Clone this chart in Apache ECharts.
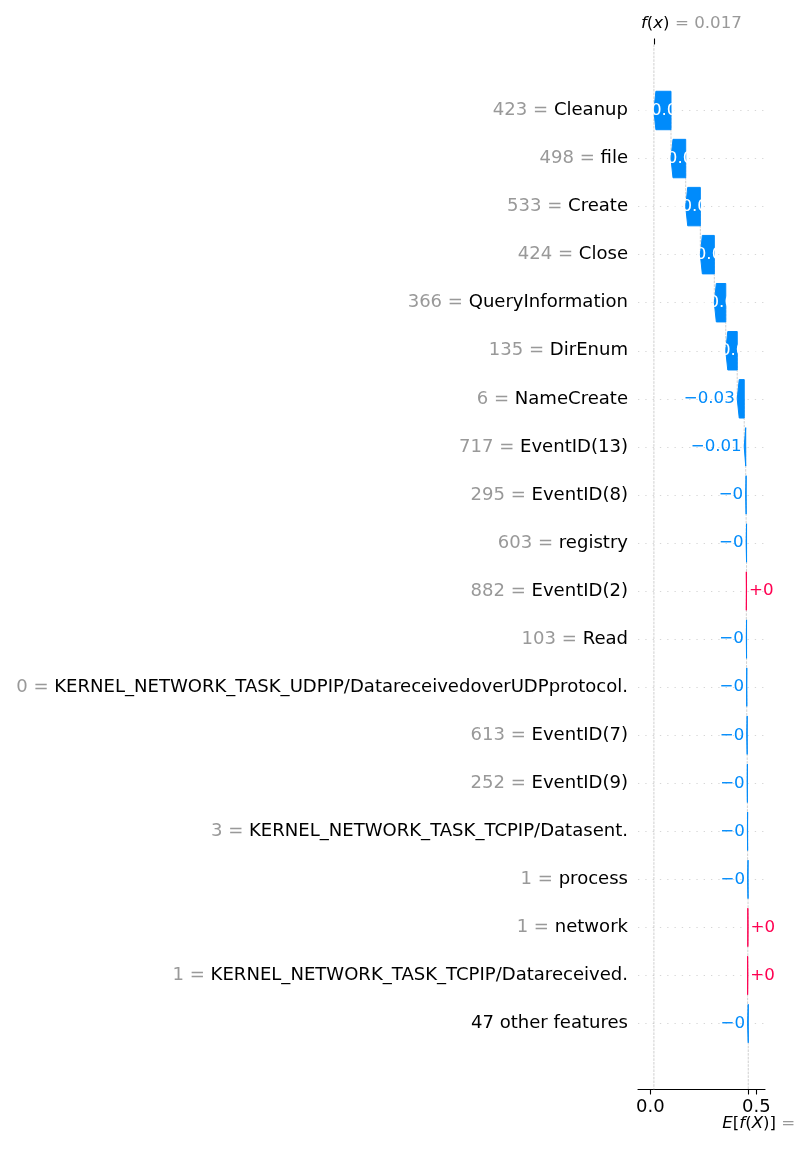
<!DOCTYPE html>
<html><head><meta charset="utf-8">
<script src="https://cdn.jsdelivr.net/npm/echarts@6/dist/echarts.min.js"></script>
<style>html,body{margin:0;padding:0;background:#fff}#c{width:800px;height:1150px}</style>
</head><body><div id="c"></div>
<script>
// ---- data ----
const featureNames = ['Cleanup','file','Create','Close','QueryInformation','DirEnum','NameCreate','EventID(13)','EventID(8)','registry','EventID(2)','Read','KERNEL_NETWORK_TASK_UDPIP/DatareceivedoverUDPprotocol.','EventID(7)','EventID(9)','KERNEL_NETWORK_TASK_TCPIP/Datasent.','process','network','KERNEL_NETWORK_TASK_TCPIP/Datareceived.','47 other features'];
const featureValues = ['423','498','533','424','366','135','6','717','295','603','882','103','0','613','252','3','1','1','1',''];
const shapValues = [-0.0806,-0.0694,-0.069,-0.066,-0.054,-0.054,-0.033,-0.007,-0.002,-0.002,0.001,-0.001,-0.001,-0.002,-0.001,-0.001,-0.002,0.001,0.001,-0.003];
const baseValue = 0.462;
const fxValue = 0.017;
const xTickValues = [0, 0.5];

// ---- style ----
const FONT = 'DejaVu Sans';
const BLUE = '#008bfb', RED = '#ff0051', GRAY = '#999999';
const TOP_OFFSET = 66, BOTTOM_OFFSET = 66;

const n = featureNames.length;
const segStart = [], segEnd = [];
let cum = baseValue;
for (let i = n - 1; i >= 0; i--) { segStart[i] = cum; cum += shapValues[i]; segEnd[i] = cum; }

function fmt(v) {
  let s = Math.abs(v).toFixed(2).replace(/0+$/, '').replace(/\.$/, '');
  return (v < 0 ? '\u2212' : '+') + s;
}

const barData = featureNames.map((_, i) => [segStart[i], segEnd[i], i, shapValues[i]]);
const connData = [];
for (let i = 0; i < n - 1; i++) connData.push([segStart[i], i]);

function renderBar(params, api) {
  const s = api.value(0), e = api.value(1), row = api.value(2), v = api.value(3);
  const p0 = api.coord([s, row]), p1 = api.coord([e, row]);
  const band = api.coord([s, 1])[1] - api.coord([s, 0])[1];
  const h = band * 0.8;
  const y = p0[1], x0 = p0[0], x1 = p1[0];
  const dir = x1 < x0 ? -1 : 1;
  const w = Math.abs(x1 - x0);
  const hl = Math.min(2, w);
  const xb = x1 - dir * hl;
  const color = v < 0 ? BLUE : RED;
  const pts = [[x0, y - h / 2], [xb, y - h / 2], [x1, y], [xb, y + h / 2], [x0, y + h / 2]];
  const children = [{ type: 'polygon', shape: { points: pts }, style: { fill: color, stroke: color, lineWidth: 1 } }];
  const label = fmt(v);
  const ts = { fontSize: 16.67, fontFamily: FONT, verticalAlign: 'middle', text: label, y: y };
  if (w > 10) children.push({ type: 'text', z2: 10, style: Object.assign({}, ts, { x: (x0 + x1) / 2, align: 'center', fill: '#ffffff' }) });
  else if (v < 0) children.push({ type: 'text', style: Object.assign({}, ts, { x: Math.min(x0, x1) - 2.5, align: 'right', fill: BLUE }) });
  else children.push({ type: 'text', style: Object.assign({}, ts, { x: Math.max(x0, x1) + 2.5, align: 'left', fill: RED }) });
  return { type: 'group', children };
}

const dashStyle = { stroke: '#bbbbbb', lineWidth: 0.7, lineDash: [2.6, 1.1] };

function renderConn(params, api) {
  const x = api.value(0), row = api.value(1);
  const p = api.coord([x, row]), q = api.coord([x, row + 1]);
  return { type: 'line', shape: { x1: p[0], y1: p[1], x2: q[0], y2: q[1] }, style: dashStyle };
}

function renderRef(params, api) {
  const cs = params.coordSys;
  const x = api.value(0), kind = api.value(1);
  const px = api.coord([x, 0])[0];
  let y1, y2 = cs.y + cs.height + BOTTOM_OFFSET;
  if (kind === 0) y1 = cs.y - TOP_OFFSET; else y1 = api.coord([x, n - 1])[1];
  return { type: 'line', shape: { x1: px, y1: y1, x2: px, y2: y2 }, style: dashStyle };
}

const chart = echarts.init(document.getElementById('c'), null, { renderer: 'canvas' });
const option = {
  animation: false,
  backgroundColor: '#ffffff',
  grid: { left: 638, right: 35, top: 110.5, bottom: 126.5, containLabel: false, outerBoundsMode: 'none' },
  xAxis: [{
    type: 'value', min: -0.058, max: 0.541, position: 'bottom', offset: BOTTOM_OFFSET,
    axisLine: { show: true, onZero: false, lineStyle: { color: '#000', width: 1.1 } },
    axisTick: { show: true, customValues: xTickValues.concat([baseValue]), length: 5, lineStyle: { color: '#000', width: 1.1 } },
    axisLabel: { show: true, customValues: xTickValues, formatter: v => v.toFixed(1), color: '#000', fontSize: 18, fontFamily: FONT, margin: 9 },
    splitLine: { show: false }
  }, {
    type: 'value', min: -0.058, max: 0.541, position: 'top', offset: TOP_OFFSET,
    axisLine: { show: false },
    axisTick: { show: true, customValues: [fxValue], length: 6, lineStyle: { color: '#000', width: 1.1 } },
    axisLabel: { show: false },
    splitLine: { show: false }
  }],
  yAxis: {
    type: 'category', data: featureNames, inverse: true, boundaryGap: false,
    axisLine: { show: false }, axisTick: { show: false },
    axisLabel: {
      interval: 0, margin: 10, fontSize: 18.06, fontFamily: FONT,
      formatter: (val, idx) => featureValues[idx] !== '' ? '{v|' + featureValues[idx] + ' = }{n|' + val + '}' : '{n|' + val + '}',
      rich: { v: { color: GRAY, fontSize: 18.06, fontFamily: FONT }, n: { color: '#000', fontSize: 18.06, fontFamily: FONT } }
    },
    splitLine: { show: true, interval: 0, lineStyle: { color: '#cccccc', width: 0.8, type: [1.3, 6] } }
  },
  series: [
    { type: 'custom', name: 'ref', z: 1, clip: false, data: [[fxValue, 0], [baseValue, 1]], encode: { x: 0 }, renderItem: renderRef, silent: true },
    { type: 'custom', name: 'connectors', z: 1, clip: false, data: connData, encode: { x: 0, y: 1 }, renderItem: renderConn, silent: true },
    { type: 'custom', name: 'bars', z: 3, clip: false, data: barData, encode: { x: [0, 1], y: 2 }, renderItem: renderBar }
  ]
};
chart.setOption(option);

const fpx = chart.convertToPixel({ xAxisIndex: 0 }, fxValue);
const epx = chart.convertToPixel({ xAxisIndex: 0 }, baseValue);
const richStyle = {
  i: { fontStyle: 'italic', fontFamily: FONT, fontSize: 16.67, fill: '#000' },
  n: { fontFamily: FONT, fontSize: 16.67, fill: '#000' },
  g: { fontFamily: FONT, fontSize: 16.67, fill: GRAY }
};
chart.setOption({
  graphic: [
    { type: 'text', x: fpx - 13, y: 24, z: 10, style: { text: '{i|f}{n|(}{i|x}{n|)}{g| = ' + fxValue.toFixed(3) + '}', rich: richStyle, verticalAlign: 'middle', align: 'left' } },
    { type: 'text', x: epx - 26, y: 1124, z: 10, style: { text: '{i|E}{n|[}{i|f}{n|(}{i|X}{n|)]}{g| = ' + baseValue.toFixed(3) + '}', rich: richStyle, verticalAlign: 'middle', align: 'left' } }
  ]
});
</script></body></html>
